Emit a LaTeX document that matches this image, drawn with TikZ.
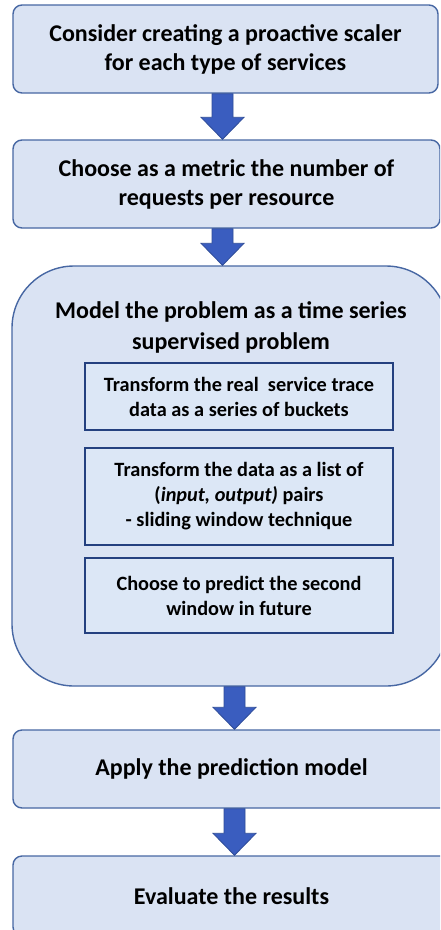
\documentclass[tikz,border=0pt]{standalone}
\usepackage{fontspec}
\setmainfont{Carlito}
\usetikzlibrary{positioning,calc}
\definecolor{wash}{HTML}{DAE3F3}
\definecolor{innerwash}{HTML}{DCE7F6}
\definecolor{edge}{HTML}{4767A3}
\definecolor{navy}{HTML}{24407F}
\definecolor{arrowblue}{HTML}{3A5DBF}
\definecolor{arrowedge}{HTML}{2E4C98}
\tikzset{
  %% nodes
  stagebox/.style = {rounded corners=9pt, draw=edge, line width=1.4pt,
                     fill=wash, align=center, inner sep=0pt,
                     font=\fontsize{24}{29}\selectfont\bfseries},
  groupbox/.style = {rounded corners=62pt, draw=edge, line width=1.4pt,
                     fill=wash, inner sep=0pt},
  substep/.style  = {draw=navy, line width=2.6pt, fill=innerwash,
                     align=center, inner sep=0pt, minimum width=308pt,
                     font=\fontsize{20.3}{25}\selectfont\bfseries},
  %% arrows
  blockarrow/.style = {fill=arrowblue, draw=arrowedge, line width=0.8pt,
                       line join=miter},
}
%% fat down arrow: from node, to node, axis coordinate
\newcommand{\flowarrow}[3]{%
  \draw[blockarrow]
    ($(#1.south -| #3)+(-10.5,0)$) -- ($(#1.south -| #3)+(10.5,0)$)
    -- ($(#2.north -| #3)+(10.5,-22)$) -- ($(#2.north -| #3)+(21.5,-22)$)
    -- (#2.north -| #3) -- ($(#2.north -| #3)+(-21.5,-22)$)
    -- ($(#2.north -| #3)+(-10.5,-22)$) -- cycle;}

\begin{document}
\begin{tikzpicture}[x=1pt, y=-1pt]
\clip (0,0) rectangle (440,930);
\fill[white] (0,0) rectangle (440,930);

%% ---- top stages ----
\node[stagebox, minimum width=425pt, minimum height=88pt] (consider) at (225.5,49)
   {Consider creating a proactive scaler\\for each type of services};
\node[stagebox, minimum width=427pt, minimum height=88pt] (metric) at (226.5,184)
   {Choose as a metric the number of\\requests per resource};

%% ---- modelling group ----
\node[groupbox, minimum width=436pt, minimum height=420pt] (model) at (230,476) {};
\node[font=\fontsize{24}{31}\selectfont\bfseries, align=center] (modeltitle) at (231,327)
   {Model the problem as a time series\\supervised problem};
\node[substep, minimum height=67pt] (buckets) at (239,396.5)
   {Transform the real\ \ service trace\\data as a series of buckets};
\node[substep, minimum height=97pt] (pairs) at (239,496.5)
   {Transform the data as a list of\\(\textit{input, output)} pairs\\- sliding window technique};
\node[substep, minimum height=75pt] (second) at (239,595.5)
   {Choose to predict the second\\window in future};

%% ---- bottom stages ----
\node[stagebox, minimum width=437pt, minimum height=78pt] (apply) at (231.5,769)
   {Apply the prediction model};
\node[stagebox, minimum width=437pt, minimum height=80pt] (evaluate) at (231.5,896)
   {Evaluate the results};

%% ---- arrows ----
\coordinate (upper) at (222.5,0);
\coordinate (lower) at (234.5,0);
\flowarrow{consider}{metric}{upper}
\flowarrow{metric}{model}{upper}
\flowarrow{model}{apply}{lower}
\flowarrow{apply}{evaluate}{lower}
\end{tikzpicture}
\end{document}
